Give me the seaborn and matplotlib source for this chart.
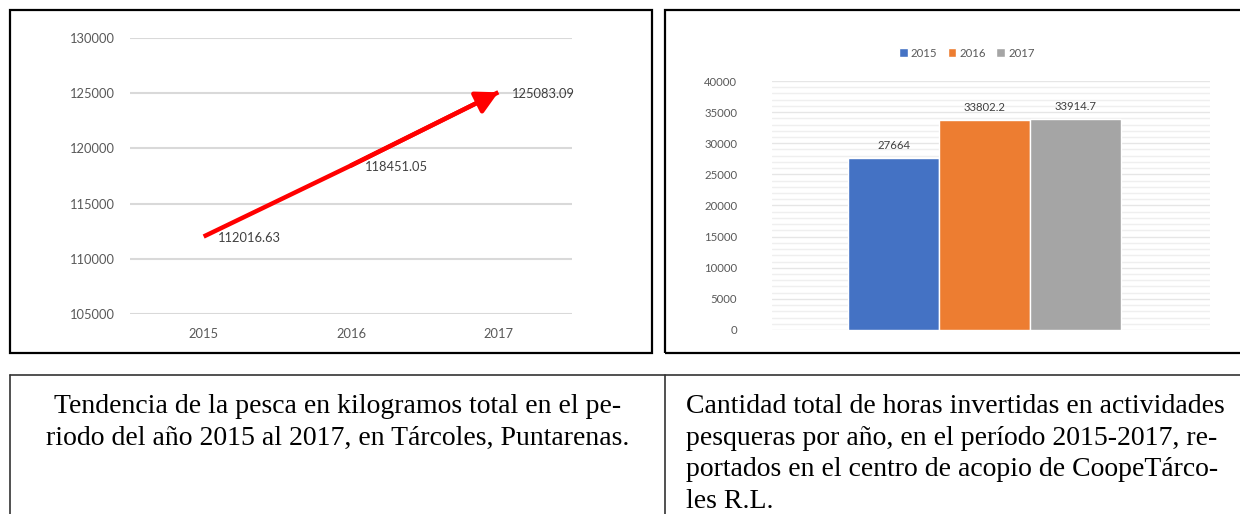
import matplotlib
matplotlib.use("Agg")
import matplotlib.pyplot as plt
from matplotlib.patches import Rectangle
from matplotlib.lines import Line2D
from matplotlib.ticker import MultipleLocator
import seaborn as sns
import pandas as pd

# ---- data ----
years = ["2015", "2016", "2017"]
catch_kg = [112016.63, 118451.05, 125083.09]
hours = [27664, 33802.2, 33914.7]
bar_colors = ["#4472C4", "#ED7D31", "#A5A5A5"]
caption_left = ("Tendencia de la pesca en kilogramos total en el pe-\n"
                "riodo del año 2015 al 2017, en Tárcoles, Puntarenas.")
caption_right = ("Cantidad total de horas invertidas en actividades\n"
                 "pesqueras por año, en el período 2015-2017, re-\n"
                 "portados en el centro de acopio de CoopeTárco-\n"
                 "les R.L.")

sns.set_theme(style="white")
plt.rcParams["font.family"] = ["Lato", "DejaVu Sans"]
TXT = "#595959"

W, H = 1240, 514
fig = plt.figure(figsize=(W / 100, H / 100), dpi=100)

def fx(px):
    return px / W

def fy(py):
    return 1 - py / H

# ---- left chart: line with arrow ----
ax1 = fig.add_axes([fx(130), fy(314), fx(572) - fx(130), fy(38) - fy(314)])
df1 = pd.DataFrame({"year": years, "kg": catch_kg})
sns.lineplot(data=df1, x="year", y="kg", ax=ax1, color="red", lw=3.2,
             solid_capstyle="butt", sort=False)
n = len(years)
ax1.annotate("", xy=(n - 1, catch_kg[-1]), xytext=(n - 2, catch_kg[-2]),
             arrowprops=dict(arrowstyle="-|>,head_length=0.6,head_width=0.32",
                             mutation_scale=22, lw=3.2, color="red",
                             shrinkA=0, shrinkB=0))
for i, v in enumerate(catch_kg):
    ax1.annotate(f"{v:.2f}", xy=(i, v), xytext=(10, -1), textcoords="offset points",
                 ha="left", va="center", fontsize=9.3, color="#404040")
ax1.set_xlim(-0.5, n - 0.5)
ax1.set_ylim(105000, 130000)
ax1.yaxis.set_major_locator(MultipleLocator(5000))
ax1.grid(axis="y", color="#d9d9d9", lw=1.5)
ax1.set_axisbelow(True)
for s in ax1.spines.values():
    s.set_visible(False)
ax1.set_xlabel("")
ax1.set_ylabel("")
ax1.tick_params(length=0, labelsize=9.3, labelcolor=TXT)
ax1.tick_params(axis="y", pad=11)
ax1.tick_params(axis="x", pad=10)

# ---- right chart: bars ----
ax2 = fig.add_axes([fx(772), fy(330), fx(1210) - fx(772), fy(81) - fy(330)])
df2 = pd.DataFrame({"year": years, "hours": hours})
sns.barplot(data=df2, x="year", y="hours", hue="year", palette=bar_colors,
            width=1.0, ax=ax2, legend=False, saturation=1)
for c, v in zip(ax2.containers, hours):
    ax2.bar_label(c, labels=[f"{v:g}"], padding=5, fontsize=8.2, color="#404040")
ax2.set_xlim(-1.34, 3.48)
ax2.set_ylim(0, 40000)
ax2.yaxis.set_major_locator(MultipleLocator(5000))
ax2.yaxis.set_minor_locator(MultipleLocator(1000))
ax2.grid(axis="y", which="major", color="#e6e6e6", lw=1.0)
ax2.grid(axis="y", which="minor", color="#efefef", lw=1.0)
ax2.set_axisbelow(True)
for s in ax2.spines.values():
    s.set_visible(False)
ax2.set_xticks([])
ax2.set_xlabel("")
ax2.set_ylabel("")
ax2.tick_params(axis="y", which="both", length=0, labelsize=8.2, labelcolor=TXT, pad=25)
ax2.legend(ax2.containers, years, loc="center", bbox_to_anchor=(0.445, 1.112),
           ncol=3, frameon=False, fontsize=8.2, handlelength=0.75, handleheight=0.75,
           handletextpad=0.3, columnspacing=0.9, labelcolor=TXT)

# ---- panel frames ----
fig.add_artist(Rectangle((fx(10), fy(353)), fx(652) - fx(10), fy(10) - fy(353),
                         transform=fig.transFigure, fill=False, lw=1.6, ec="black"))
fig.add_artist(Rectangle((fx(665), fy(353)), fx(1260) - fx(665), fy(10) - fy(353),
                         transform=fig.transFigure, fill=False, lw=1.6, ec="black"))

# ---- caption table ----
fig.add_artist(Line2D([fx(10), 1.0], [fy(375), fy(375)], transform=fig.transFigure,
                      color="#333333", lw=1.2))
fig.add_artist(Line2D([fx(10), fx(10)], [fy(375), 0], transform=fig.transFigure,
                      color="#333333", lw=1.2))
fig.add_artist(Line2D([fx(665), fx(665)], [fy(375), 0], transform=fig.transFigure,
                      color="#333333", lw=1.2))
fig.text(fx(338), fy(394), caption_left, ha="center", va="top", fontsize=20,
         family="Liberation Serif", color="black", linespacing=1.35)
fig.text(fx(686), fy(394), caption_right, ha="left", va="top", fontsize=20,
         family="Liberation Serif", color="black", linespacing=1.35)

fig.savefig("out.png", dpi=100)
